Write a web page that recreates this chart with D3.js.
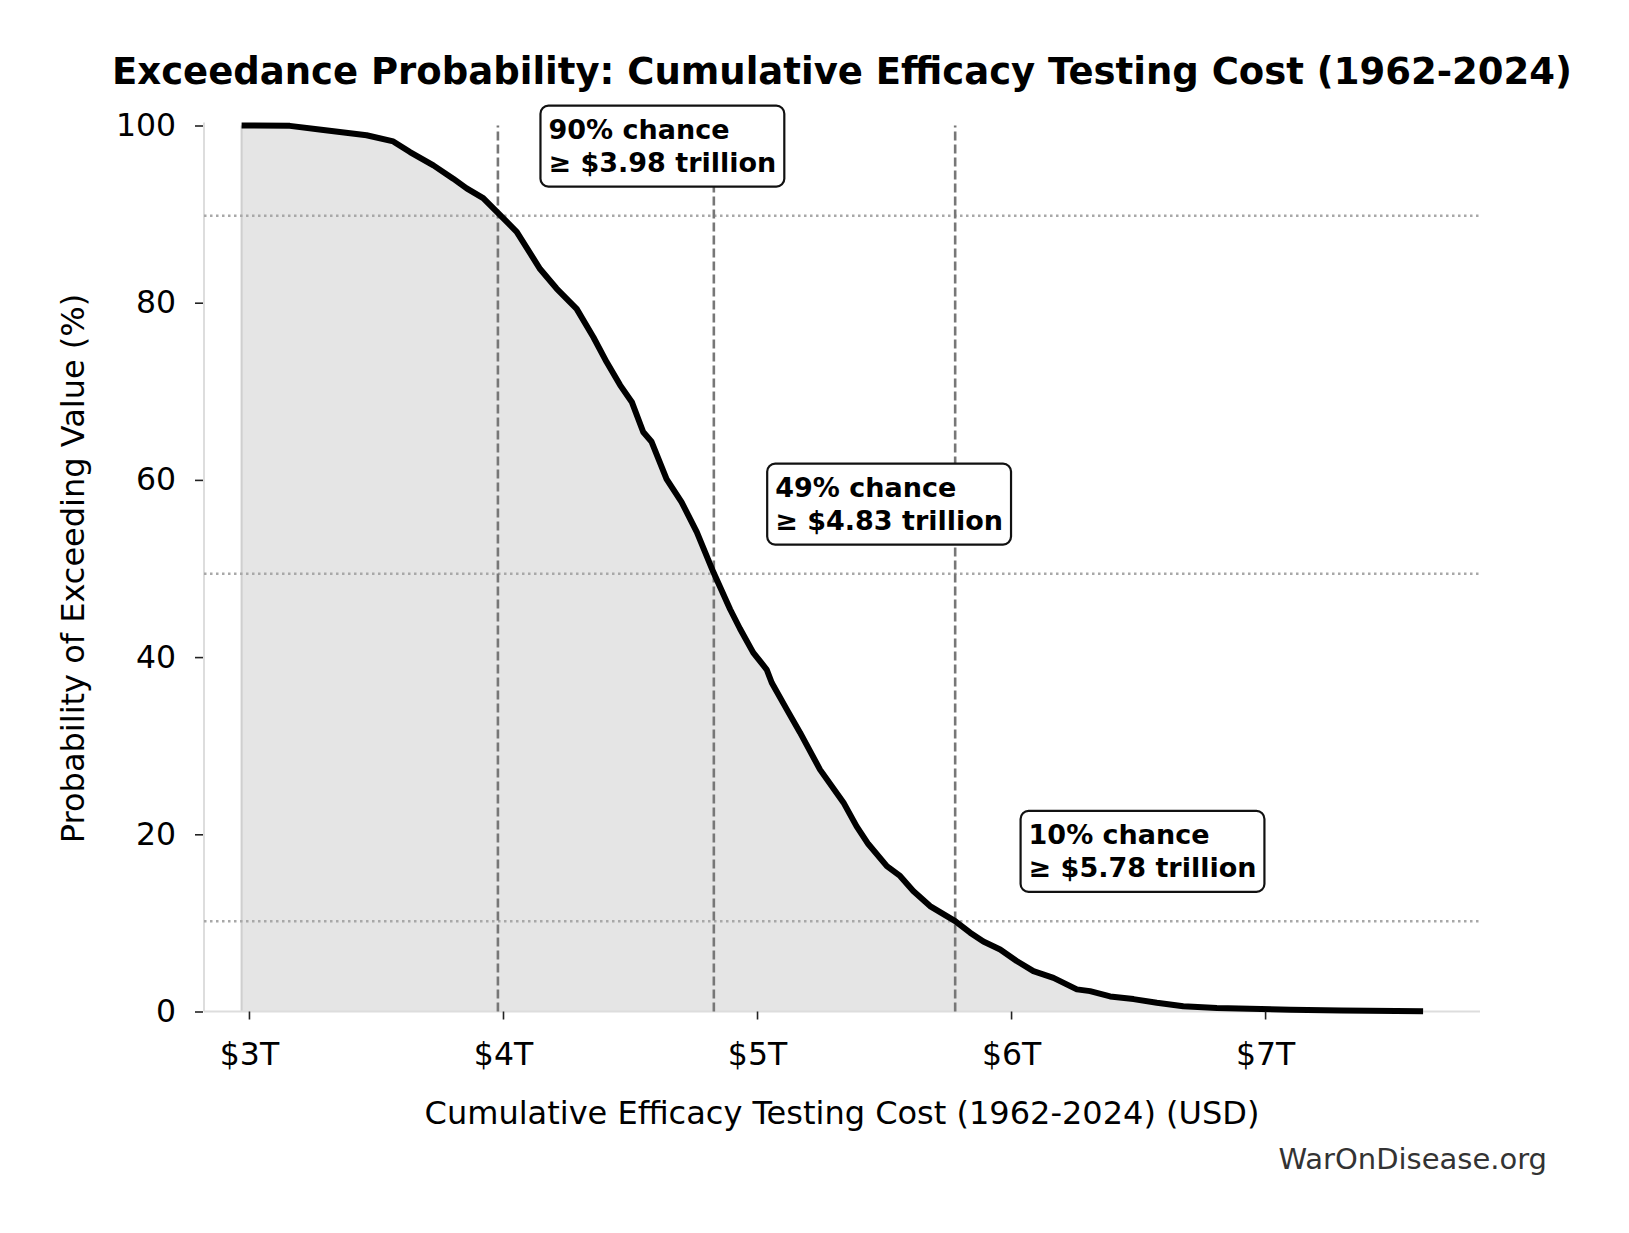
<!DOCTYPE html>
<html>
<head>
<meta charset="utf-8">
<script src="https://cdn.jsdelivr.net/npm/d3@7"></script>
<style>
  html, body { margin: 0; padding: 0; background: #fff; }
  svg { display: block; font-family: "DejaVu Sans", sans-serif; }
</style>
</head>
<body>
<div id="chart"></div>
<script>
// Exceedance curve (cost in trillions USD, probability in %)
const costT = [2.971, 3.161, 3.293, 3.463, 3.568, 3.634, 3.726, 3.804, 3.857, 3.922,
  3.981, 4.054, 4.146, 4.211, 4.290, 4.356, 4.408, 4.461, 4.507, 4.552,
  4.585, 4.644, 4.703, 4.763, 4.828, 4.894, 4.933, 4.985, 5.038, 5.058,
  5.117, 5.169, 5.248, 5.340, 5.392, 5.438, 5.511, 5.563, 5.615, 5.681,
  5.780, 5.839, 5.891, 5.957, 6.022, 6.088, 6.167, 6.259, 6.311, 6.390,
  6.482, 6.574, 6.678, 6.810, 6.940, 7.100, 7.300, 7.622];
const probPct = [100, 99.96, 99.5, 98.9, 98.2, 97.0, 95.5, 94.0, 92.9, 91.8,
  90.1, 88.0, 83.8, 81.6, 79.3, 76.1, 73.3, 70.7, 68.8, 65.4,
  64.3, 60.1, 57.5, 54.1, 49.6, 45.4, 43.2, 40.5, 38.6, 37.1,
  34.1, 31.5, 27.3, 23.6, 20.9, 18.9, 16.4, 15.3, 13.6, 11.9,
  10.2, 8.9, 7.9, 7.0, 5.7, 4.55, 3.8, 2.5, 2.3, 1.7,
  1.4, 0.98, 0.6, 0.4, 0.3, 0.2, 0.12, 0.03];

// Marked percentiles
const markValueT = [3.98, 4.83, 5.78];
const markProb = [89.8, 49.4, 10.2];
const markLabel = ["90% chance", "49% chance", "10% chance"];

const xTicks = [3, 4, 5, 6, 7];
const yTicks = [0, 20, 40, 60, 80, 100];

const W = 1629, H = 1233;
const mg = { left: 204, right: 1480, top: 125.5, bottom: 1011.5 };

const svg = d3.select("#chart").append("svg")
  .attr("width", W)
  .attr("height", H);

const x = d3.scaleLinear().domain([2.823, 7.846]).range([mg.left, mg.right]);
const y = d3.scaleLinear().domain([0, 100]).range([mg.bottom, mg.top]);

const pts = costT.map((c, i) => [c, probPct[i]]);

// shaded area under the curve
svg.append("path")
  .datum(pts)
  .attr("d", d3.area().x(d => x(d[0])).y0(y(0)).y1(d => y(d[1])))
  .style("fill", "#e5e5e5");

svg.append("line")
  .attr("x1", x(costT[0])).attr("x2", x(costT[0]))
  .attr("y1", y(0)).attr("y2", y(probPct[0]))
  .style("stroke", "#cfcfcf")
  .style("stroke-width", 2);

// spines
svg.append("line")
  .attr("x1", mg.left).attr("x2", mg.left)
  .attr("y1", mg.top - 3).attr("y2", mg.bottom)
  .style("stroke", "#dddddd").style("stroke-width", 2);
svg.append("line")
  .attr("x1", mg.left).attr("x2", mg.right)
  .attr("y1", mg.bottom).attr("y2", mg.bottom)
  .style("stroke", "#dddddd").style("stroke-width", 2);

// reference lines
svg.selectAll(".hline")
  .data(markProb)
  .enter().append("line")
  .attr("class", "hline")
  .attr("x1", mg.left).attr("x2", mg.right)
  .attr("y1", d => y(d)).attr("y2", d => y(d))
  .style("stroke", "#a8a8a8")
  .style("stroke-width", 2.5)
  .style("stroke-dasharray", "2.5 3.5");

svg.selectAll(".vline")
  .data(markValueT)
  .enter().append("line")
  .attr("class", "vline")
  .attr("x1", d => x(d)).attr("x2", d => x(d))
  .attr("y1", y(0)).attr("y2", y(100))
  .style("stroke", "#777777")
  .style("stroke-width", 2.6)
  .style("stroke-dasharray", "9 4");

// the curve
svg.append("path")
  .datum(pts)
  .attr("d", d3.line().x(d => x(d[0])).y(d => y(d[1])))
  .style("fill", "none")
  .style("stroke", "#000")
  .style("stroke-width", 6)
  .style("stroke-linejoin", "round");

// axes
const xAxis = svg.append("g")
  .attr("transform", `translate(0,${mg.bottom})`)
  .call(d3.axisBottom(x).tickValues(xTicks).tickSize(8).tickPadding(23)
    .tickFormat(d => "$" + d + "T"));
const yAxis = svg.append("g")
  .attr("transform", `translate(${mg.left - 1},0)`)
  .call(d3.axisLeft(y).tickValues(yTicks).tickSize(8).tickPadding(19));

[xAxis, yAxis].forEach(g => {
  g.select(".domain").remove();
  g.selectAll(".tick line").style("stroke", "#222").style("stroke-width", 1.6);
  g.selectAll(".tick text")
    .style("font-family", "DejaVu Sans")
    .style("font-size", "31.5px")
    .style("fill", "#000");
});

// annotation boxes
markValueT.forEach((v, i) => {
  const g = svg.append("g");
  const tx = x(v * 1.05);
  const cy = y(markProb[i] + 7.7);
  const t = g.append("text")
    .attr("x", tx)
    .style("font-size", "27px")
    .style("font-weight", "bold");
  t.append("tspan").attr("x", tx).attr("y", cy - 9).text(markLabel[i]);
  t.append("tspan").attr("x", tx).attr("y", cy + 24)
    .text("≥ $" + v.toFixed(2) + " trillion");
  const bb = t.node().getBBox();
  g.insert("rect", "text")
    .attr("x", bb.x - 8)
    .attr("y", bb.y - 8)
    .attr("width", bb.width + 16)
    .attr("height", bb.height + 17)
    .attr("rx", 8)
    .style("fill", "#fff")
    .style("stroke", "#111")
    .style("stroke-width", 2.2);
});

// title and labels
svg.append("text")
  .attr("x", (mg.left + mg.right) / 2)
  .attr("y", 84)
  .attr("text-anchor", "middle")
  .style("font-size", "37px")
  .style("font-weight", "bold")
  .text("Exceedance Probability: Cumulative Efficacy Testing Cost (1962-2024)");

svg.append("text")
  .attr("x", (mg.left + mg.right) / 2)
  .attr("y", 1124)
  .attr("text-anchor", "middle")
  .style("font-size", "32px")
  .text("Cumulative Efficacy Testing Cost (1962-2024) (USD)");

svg.append("text")
  .attr("transform", `translate(84,${(mg.top + mg.bottom) / 2}) rotate(-90)`)
  .attr("text-anchor", "middle")
  .style("font-size", "32px")
  .text("Probability of Exceeding Value (%)");

svg.append("text")
  .attr("x", 1547)
  .attr("y", 1169)
  .attr("text-anchor", "end")
  .style("font-size", "29px")
  .style("fill", "#333")
  .text("WarOnDisease.org");
</script>
</body>
</html>
